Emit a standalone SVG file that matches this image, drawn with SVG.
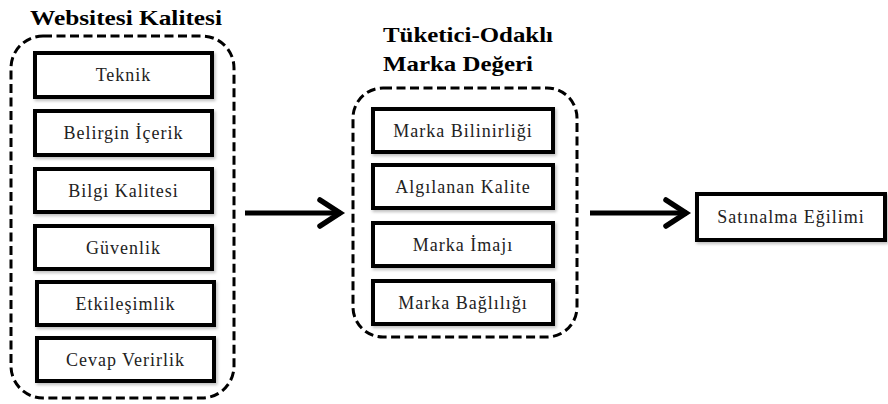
<svg xmlns="http://www.w3.org/2000/svg" width="888" height="404" viewBox="0 0 888 404">
  <defs>
    <filter id="shadow" x="-10%" y="-20%" width="120%" height="150%">
      <feDropShadow dx="1.5" dy="2" stdDeviation="1.5" flood-color="#000" flood-opacity="0.25"/>
    </filter>
    <marker id="chevron" markerWidth="30" markerHeight="34" refX="25" refY="17" orient="auto" markerUnits="userSpaceOnUse">
      <path d="M4,4 L24,17 L4,30" fill="none" stroke="#000" stroke-width="5.5" stroke-linecap="round" stroke-linejoin="miter"/>
    </marker>
  </defs>
  <style>
    .group { fill: none; stroke: #000; stroke-width: 3; stroke-dasharray: 9 4.5; }
    .box { fill: #fff; stroke: #000; stroke-width: 4; filter: url(#shadow); }
    .label { font-size: 18px; letter-spacing: 1px; fill: #222; text-anchor: middle; }
    .title { font-size: 22px; font-weight: bold; fill: #000; }
    .conn { stroke: #000; stroke-width: 5; fill: none; marker-end: url(#chevron); }
  </style>
  <rect width="888" height="404" fill="#fff"/>

  <g font-family="Liberation Serif, Tinos, Noto Serif, DejaVu Serif, serif">
  <!-- Website quality cluster -->
  <g id="websitesi-kalitesi">
    <text class="title" x="30" y="25" textLength="192" lengthAdjust="spacingAndGlyphs">Websitesi Kalitesi</text>
    <rect class="group" x="11" y="36" width="223" height="362" rx="32" ry="32"/>
  </g>
  <g id="teknik">
    <rect class="box" x="35" y="53" width="177" height="44"/>
    <text class="label" x="123.5" y="81">Teknik</text>
  </g>
  <g id="belirgin-icerik">
    <rect class="box" x="35" y="111" width="177" height="44"/>
    <text class="label" x="123.5" y="139">Belirgin İçerik</text>
  </g>
  <g id="bilgi-kalitesi">
    <rect class="box" x="35" y="169" width="177" height="43"/>
    <text class="label" x="123.5" y="197">Bilgi Kalitesi</text>
  </g>
  <g id="guvenlik">
    <rect class="box" x="35" y="226" width="177" height="43"/>
    <text class="label" x="123.5" y="254">Güvenlik</text>
  </g>
  <g id="etkilesimlik">
    <rect class="box" x="37" y="282" width="177" height="43"/>
    <text class="label" x="125.5" y="310">Etkileşimlik</text>
  </g>
  <g id="cevap-verirlik">
    <rect class="box" x="37" y="338" width="177" height="43"/>
    <text class="label" x="125.5" y="366">Cevap Verirlik</text>
  </g>

  <!-- Consumer-based brand equity cluster -->
  <g id="marka-degeri">
    <text class="title" x="383" y="42" textLength="170" lengthAdjust="spacingAndGlyphs">Tüketici-Odaklı</text>
    <text class="title" x="383" y="71" textLength="150" lengthAdjust="spacingAndGlyphs">Marka Değeri</text>
    <rect class="group" x="353" y="88" width="224" height="249" rx="30" ry="30"/>
  </g>
  <g id="marka-bilinirligi">
    <rect class="box" x="373" y="109" width="180" height="43"/>
    <text class="label" x="463" y="137">Marka Bilinirliği</text>
  </g>
  <g id="algilanan-kalite">
    <rect class="box" x="373" y="165" width="180" height="43"/>
    <text class="label" x="463" y="193">Algılanan Kalite</text>
  </g>
  <g id="marka-imaji">
    <rect class="box" x="373" y="223" width="180" height="43"/>
    <text class="label" x="463" y="251">Marka İmajı</text>
  </g>
  <g id="marka-bagliligi">
    <rect class="box" x="373" y="281" width="180" height="43"/>
    <text class="label" x="463" y="309">Marka Bağlılığı</text>
  </g>

  <!-- Outcome -->
  <g id="satinalma-egilimi">
    <rect class="box" x="697" y="194" width="188" height="46"/>
    <text class="label" x="791" y="223">Satınalma Eğilimi</text>
  </g>
  </g>

  <!-- Connectors -->
  <g id="connectors">
    <line class="conn" x1="245" y1="213" x2="341" y2="213"/>
    <line class="conn" x1="590" y1="213" x2="687" y2="213"/>
  </g>
</svg>
